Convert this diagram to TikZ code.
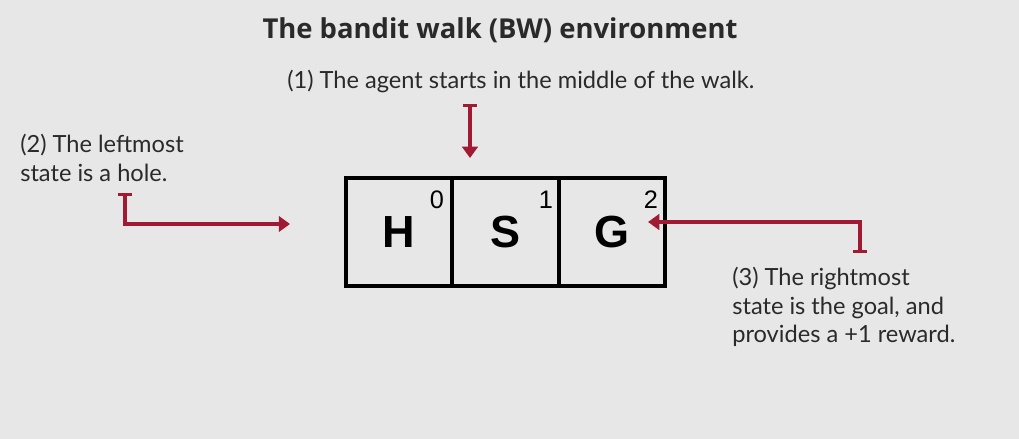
\documentclass[tikz,border=0pt]{standalone}
\usepackage{fontspec}
\setmainfont{Lato}
\newfontfamily\titlefont{Open Sans}
\newfontfamily\cellfont{Liberation Sans}
\usetikzlibrary{arrows.meta}
\definecolor{bgray}{HTML}{E7E7E7}
\definecolor{ink}{HTML}{2A2A2A}
\definecolor{crimson}{HTML}{A11A33}
\tikzset{
  cellbox/.style={draw=black, line width=2.9pt, minimum width=2.66cm, minimum height=2.7cm, inner sep=0pt,
    font=\cellfont\bfseries\fontsize{32}{32}\selectfont},
  note/.style={text=ink, font=\fontsize{16.8}{20.3}\selectfont, align=left, inner sep=0pt},
  pointer/.style={crimson, line width=2.2pt, {Bar[width=10pt]}-{Triangle[width=11pt,length=8pt]}},
  index/.style={font=\cellfont\fontsize{18}{18}\selectfont}
}
\begin{document}
\begin{tikzpicture}[x=0.025cm, y=-0.025cm]
  \fill[bgray] (0,0) rectangle (1019,439);
  \useasboundingbox (0,0) rectangle (1019,439);

  \node[font=\titlefont\bfseries\fontsize{19.5}{24}\selectfont, text=ink] (title) at (500,30) {The bandit walk (BW) environment};

  % the walk
  \node[cellbox] (hole) at (399.2,232) {H};
  \node[cellbox] (start) at (505.5,232) {S};
  \node[cellbox] (goal) at (611.8,232) {G};
  \node[index] (i0) at (437,200) {0};
  \node[index] (i1) at (546,200) {1};
  \node[index] (i2) at (651,200) {2};

  % notes
  \node[note, anchor=base west] (n1) at (287,89) {(1) The agent starts in the middle of the walk.};
  \node[note, anchor=north west] (n2) at (20,134) {(2) The leftmost\\state is a hole.};
  \node[note, anchor=north west] (n3) at (732,267) {(3) The rightmost\\state is the goal, and\\provides a +1 reward.};

  % pointers
  \coordinate (a1s) at (470,104);
  \coordinate (a1e) at (470,158);
  \coordinate (a2s) at (125,193);
  \coordinate (a2e) at (290,224);
  \coordinate (a3s) at (860,253);
  \coordinate (a3e) at (648,222);
  \draw[pointer] (a1s) -- (a1e);
  \draw[pointer] (a2s) |- (a2e);
  \draw[pointer] (a3s) |- (a3e);
\end{tikzpicture}
\end{document}
